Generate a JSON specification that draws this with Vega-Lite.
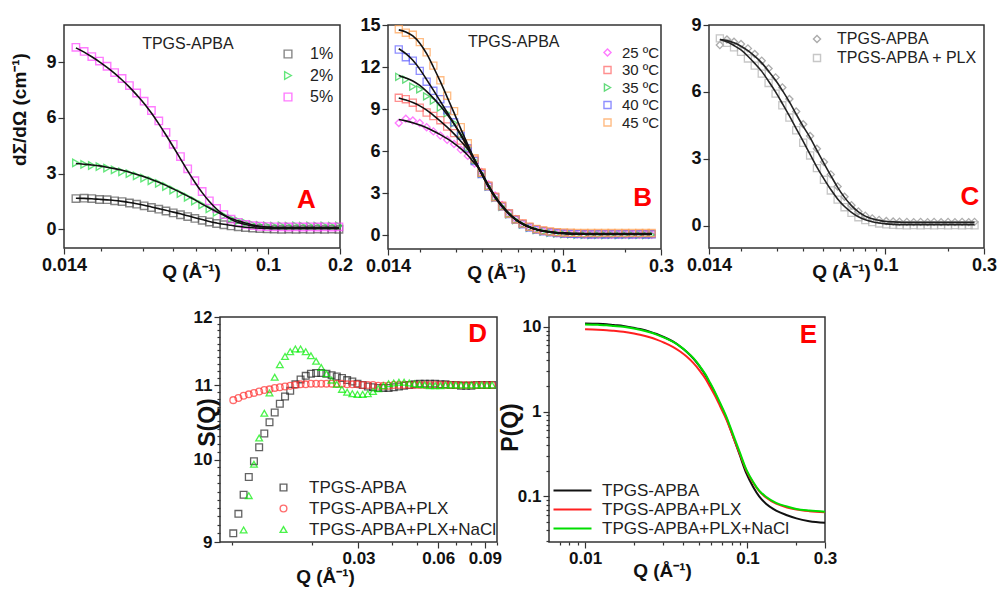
{
"$schema":"https://vega.github.io/schema/vega-lite/v6.json",
"background":"white",
"padding":{"left":9,"top":15,"right":0,"bottom":0},
"config":{
 "font":"Liberation Sans",
 "view":{"stroke":"#333","strokeWidth":1.5},
 "axis":{"labelFont":"Liberation Sans","labelFontSize":18,"labelFontWeight":"bold","labelColor":"#111","titleFont":"Liberation Sans","titleFontSize":19,"titleFontWeight":"bold","titleColor":"#111","grid":false,"domain":false,"tickColor":"#333","tickWidth":1.2,"labelFlush":false,"labelOverlap":false,"labelBound":false,"labelPadding":2},
 "legend":{"orient":"none","padding":0,"labelFont":"Liberation Sans","labelColor":"#222","symbolStrokeWidth":1.4,"labelLimit":400}
},
"resolve":{"scale":{"x":"independent","y":"independent","color":"independent","shape":"independent"}},
"datasets":{
"a":[
{"q":0.0157,"s":"1%","f":1.68,"v":1.66},{"q":0.0170,"s":"1%","f":1.67,"v":1.68},{"q":0.0183,"s":"1%","f":1.65,"v":1.66},{"q":0.0197,"s":"1%","f":1.62,"v":1.61},{"q":0.0212,"s":"1%","f":1.59,"v":1.60},{"q":0.0228,"s":"1%","f":1.56,"v":1.54},{"q":0.0245,"s":"1%","f":1.51,"v":1.50},{"q":0.0263,"s":"1%","f":1.45,"v":1.42},{"q":0.0282,"s":"1%","f":1.38,"v":1.36},{"q":0.0303,"s":"1%","f":1.30,"v":1.27},{"q":0.0325,"s":"1%","f":1.21,"v":1.18},{"q":0.0349,"s":"1%","f":1.12,"v":1.09},{"q":0.0374,"s":"1%","f":1.03,"v":0.99},{"q":0.0401,"s":"1%","f":0.93,"v":0.89},{"q":0.0430,"s":"1%","f":0.84,"v":0.79},{"q":0.0461,"s":"1%","f":0.73,"v":0.69},{"q":0.0494,"s":"1%","f":0.63,"v":0.59},{"q":0.0530,"s":"1%","f":0.53,"v":0.49},{"q":0.0568,"s":"1%","f":0.43,"v":0.40},{"q":0.0609,"s":"1%","f":0.35,"v":0.32},{"q":0.0653,"s":"1%","f":0.28,"v":0.25},{"q":0.0700,"s":"1%","f":0.22,"v":0.19},{"q":0.0750,"s":"1%","f":0.16,"v":0.14},{"q":0.0804,"s":"1%","f":0.12,"v":0.10},{"q":0.0862,"s":"1%","f":0.09,"v":0.07},{"q":0.0924,"s":"1%","f":0.07,"v":0.05},{"q":0.0990,"s":"1%","f":0.05,"v":0.03},{"q":0.106,"s":"1%","f":0.04,"v":0.02},{"q":0.114,"s":"1%","f":0.04,"v":0.01},{"q":0.122,"s":"1%","f":0.04,"v":0.02},{"q":0.131,"s":"1%","f":0.04,"v":0.01},{"q":0.140,"s":"1%","f":0.04,"v":0.02},{"q":0.150,"s":"1%","f":0.04,"v":0.01},{"q":0.161,"s":"1%","f":0.04,"v":0.02},{"q":0.172,"s":"1%","f":0.04,"v":0.01},{"q":0.185,"s":"1%","f":0.04,"v":0.02},{"q":0.198,"s":"1%","f":0.04,"v":0.01},
{"q":0.0157,"s":"2%","f":3.55,"v":3.58},{"q":0.0170,"s":"2%","f":3.51,"v":3.50},{"q":0.0183,"s":"2%","f":3.47,"v":3.44},{"q":0.0197,"s":"2%","f":3.42,"v":3.38},{"q":0.0212,"s":"2%","f":3.35,"v":3.30},{"q":0.0228,"s":"2%","f":3.27,"v":3.20},{"q":0.0245,"s":"2%","f":3.18,"v":3.10},{"q":0.0263,"s":"2%","f":3.08,"v":3.00},{"q":0.0282,"s":"2%","f":2.96,"v":2.88},{"q":0.0303,"s":"2%","f":2.83,"v":2.76},{"q":0.0325,"s":"2%","f":2.69,"v":2.62},{"q":0.0349,"s":"2%","f":2.54,"v":2.48},{"q":0.0374,"s":"2%","f":2.37,"v":2.31},{"q":0.0401,"s":"2%","f":2.18,"v":2.12},{"q":0.0430,"s":"2%","f":1.99,"v":1.93},{"q":0.0461,"s":"2%","f":1.79,"v":1.73},{"q":0.0494,"s":"2%","f":1.59,"v":1.53},{"q":0.0530,"s":"2%","f":1.36,"v":1.32},{"q":0.0568,"s":"2%","f":1.15,"v":1.11},{"q":0.0609,"s":"2%","f":0.95,"v":0.92},{"q":0.0653,"s":"2%","f":0.76,"v":0.74},{"q":0.0700,"s":"2%","f":0.59,"v":0.58},{"q":0.0750,"s":"2%","f":0.46,"v":0.46},{"q":0.0804,"s":"2%","f":0.34,"v":0.35},{"q":0.0862,"s":"2%","f":0.24,"v":0.26},{"q":0.0924,"s":"2%","f":0.17,"v":0.21},{"q":0.0990,"s":"2%","f":0.12,"v":0.19},{"q":0.106,"s":"2%","f":0.09,"v":0.18},{"q":0.114,"s":"2%","f":0.08,"v":0.19},{"q":0.122,"s":"2%","f":0.07,"v":0.18},{"q":0.131,"s":"2%","f":0.07,"v":0.19},{"q":0.140,"s":"2%","f":0.07,"v":0.18},{"q":0.150,"s":"2%","f":0.07,"v":0.19},{"q":0.161,"s":"2%","f":0.07,"v":0.18},{"q":0.172,"s":"2%","f":0.07,"v":0.19},{"q":0.185,"s":"2%","f":0.07,"v":0.18},{"q":0.198,"s":"2%","f":0.07,"v":0.19},
{"q":0.0157,"s":"5%","f":9.77,"v":9.80},{"q":0.0170,"s":"5%","f":9.54,"v":9.58},{"q":0.0183,"s":"5%","f":9.29,"v":9.30},{"q":0.0197,"s":"5%","f":9.02,"v":9.06},{"q":0.0212,"s":"5%","f":8.72,"v":8.78},{"q":0.0228,"s":"5%","f":8.40,"v":8.44},{"q":0.0245,"s":"5%","f":8.04,"v":8.12},{"q":0.0263,"s":"5%","f":7.66,"v":7.74},{"q":0.0282,"s":"5%","f":7.24,"v":7.34},{"q":0.0303,"s":"5%","f":6.78,"v":6.90},{"q":0.0325,"s":"5%","f":6.26,"v":6.40},{"q":0.0349,"s":"5%","f":5.68,"v":5.84},{"q":0.0374,"s":"5%","f":5.08,"v":5.22},{"q":0.0401,"s":"5%","f":4.45,"v":4.58},{"q":0.0430,"s":"5%","f":3.80,"v":3.92},{"q":0.0461,"s":"5%","f":3.15,"v":3.26},{"q":0.0494,"s":"5%","f":2.54,"v":2.62},{"q":0.0530,"s":"5%","f":1.98,"v":2.04},{"q":0.0568,"s":"5%","f":1.50,"v":1.54},{"q":0.0609,"s":"5%","f":1.10,"v":1.13},{"q":0.0653,"s":"5%","f":0.78,"v":0.80},{"q":0.0700,"s":"5%","f":0.54,"v":0.55},{"q":0.0750,"s":"5%","f":0.37,"v":0.38},{"q":0.0804,"s":"5%","f":0.26,"v":0.27},{"q":0.0862,"s":"5%","f":0.19,"v":0.20},{"q":0.0924,"s":"5%","f":0.15,"v":0.17},{"q":0.0990,"s":"5%","f":0.13,"v":0.15},{"q":0.106,"s":"5%","f":0.12,"v":0.14},{"q":0.114,"s":"5%","f":0.11,"v":0.14},{"q":0.122,"s":"5%","f":0.11,"v":0.13},{"q":0.131,"s":"5%","f":0.11,"v":0.14},{"q":0.140,"s":"5%","f":0.11,"v":0.13},{"q":0.150,"s":"5%","f":0.11,"v":0.14},{"q":0.161,"s":"5%","f":0.11,"v":0.13},{"q":0.172,"s":"5%","f":0.11,"v":0.14},{"q":0.185,"s":"5%","f":0.11,"v":0.13},{"q":0.198,"s":"5%","f":0.11,"v":0.14}
],
"b":[
{"q":0.0158,"s":"25 ºC","f":8.25,"v":8.00},{"q":0.0171,"s":"25 ºC","f":8.15,"v":8.30},{"q":0.0185,"s":"25 ºC","f":8.02,"v":8.18},{"q":0.0200,"s":"25 ºC","f":7.85,"v":8.00},{"q":0.0216,"s":"25 ºC","f":7.66,"v":7.70},{"q":0.0233,"s":"25 ºC","f":7.43,"v":7.40},{"q":0.0252,"s":"25 ºC","f":7.17,"v":7.10},{"q":0.0272,"s":"25 ºC","f":6.88,"v":6.80},{"q":0.0294,"s":"25 ºC","f":6.55,"v":6.50},{"q":0.0317,"s":"25 ºC","f":6.17,"v":6.10},{"q":0.0343,"s":"25 ºC","f":5.70,"v":5.65},{"q":0.0370,"s":"25 ºC","f":5.12,"v":5.10},{"q":0.0400,"s":"25 ºC","f":4.48,"v":4.50},{"q":0.0432,"s":"25 ºC","f":3.58,"v":3.62},{"q":0.0466,"s":"25 ºC","f":2.78,"v":2.82},{"q":0.0504,"s":"25 ºC","f":2.10,"v":2.14},{"q":0.0544,"s":"25 ºC","f":1.55,"v":1.58},{"q":0.0587,"s":"25 ºC","f":1.12,"v":1.14},{"q":0.0634,"s":"25 ºC","f":0.80,"v":0.81},{"q":0.0685,"s":"25 ºC","f":0.56,"v":0.57},{"q":0.0740,"s":"25 ºC","f":0.39,"v":0.40},{"q":0.0799,"s":"25 ºC","f":0.28,"v":0.28},{"q":0.0863,"s":"25 ºC","f":0.20,"v":0.19},{"q":0.0932,"s":"25 ºC","f":0.15,"v":0.13},{"q":0.101,"s":"25 ºC","f":0.11,"v":0.09},{"q":0.109,"s":"25 ºC","f":0.09,"v":0.06},{"q":0.117,"s":"25 ºC","f":0.07,"v":0.04},{"q":0.127,"s":"25 ºC","f":0.06,"v":0.03},{"q":0.137,"s":"25 ºC","f":0.05,"v":0.02},{"q":0.148,"s":"25 ºC","f":0.05,"v":0.01},{"q":0.160,"s":"25 ºC","f":0.05,"v":0.02},{"q":0.172,"s":"25 ºC","f":0.05,"v":0.01},{"q":0.186,"s":"25 ºC","f":0.05,"v":0.02},{"q":0.201,"s":"25 ºC","f":0.05,"v":0.01},{"q":0.217,"s":"25 ºC","f":0.05,"v":0.02},{"q":0.235,"s":"25 ºC","f":0.05,"v":0.01},{"q":0.253,"s":"25 ºC","f":0.05,"v":0.02},{"q":0.270,"s":"25 ºC","f":0.05,"v":0.01},
{"q":0.0158,"s":"30 ºC","f":9.79,"v":9.80},{"q":0.0171,"s":"30 ºC","f":9.64,"v":9.70},{"q":0.0185,"s":"30 ºC","f":9.46,"v":9.45},{"q":0.0200,"s":"30 ºC","f":9.22,"v":9.10},{"q":0.0216,"s":"30 ºC","f":8.92,"v":8.75},{"q":0.0233,"s":"30 ºC","f":8.55,"v":8.50},{"q":0.0252,"s":"30 ºC","f":8.14,"v":8.20},{"q":0.0272,"s":"30 ºC","f":7.70,"v":7.75},{"q":0.0294,"s":"30 ºC","f":7.22,"v":7.28},{"q":0.0317,"s":"30 ºC","f":6.70,"v":6.75},{"q":0.0343,"s":"30 ºC","f":6.12,"v":6.15},{"q":0.0370,"s":"30 ºC","f":5.35,"v":5.38},{"q":0.0400,"s":"30 ºC","f":4.42,"v":4.45},{"q":0.0432,"s":"30 ºC","f":3.50,"v":3.52},{"q":0.0466,"s":"30 ºC","f":2.72,"v":2.74},{"q":0.0504,"s":"30 ºC","f":2.07,"v":2.09},{"q":0.0544,"s":"30 ºC","f":1.53,"v":1.55},{"q":0.0587,"s":"30 ºC","f":1.11,"v":1.13},{"q":0.0634,"s":"30 ºC","f":0.80,"v":0.82},{"q":0.0685,"s":"30 ºC","f":0.57,"v":0.58},{"q":0.0740,"s":"30 ºC","f":0.40,"v":0.41},{"q":0.0799,"s":"30 ºC","f":0.29,"v":0.30},{"q":0.0863,"s":"30 ºC","f":0.21,"v":0.22},{"q":0.0932,"s":"30 ºC","f":0.15,"v":0.16},{"q":0.101,"s":"30 ºC","f":0.11,"v":0.12},{"q":0.109,"s":"30 ºC","f":0.08,"v":0.09},{"q":0.117,"s":"30 ºC","f":0.07,"v":0.08},{"q":0.127,"s":"30 ºC","f":0.06,"v":0.07},{"q":0.137,"s":"30 ºC","f":0.05,"v":0.06},{"q":0.148,"s":"30 ºC","f":0.05,"v":0.07},{"q":0.160,"s":"30 ºC","f":0.05,"v":0.06},{"q":0.172,"s":"30 ºC","f":0.05,"v":0.07},{"q":0.186,"s":"30 ºC","f":0.05,"v":0.06},{"q":0.201,"s":"30 ºC","f":0.05,"v":0.07},{"q":0.217,"s":"30 ºC","f":0.05,"v":0.06},{"q":0.235,"s":"30 ºC","f":0.05,"v":0.07},{"q":0.253,"s":"30 ºC","f":0.05,"v":0.06},{"q":0.270,"s":"30 ºC","f":0.05,"v":0.07},
{"q":0.0158,"s":"35 ºC","f":11.40,"v":11.30},{"q":0.0171,"s":"35 ºC","f":11.22,"v":11.10},{"q":0.0185,"s":"35 ºC","f":11.00,"v":10.60},{"q":0.0200,"s":"35 ºC","f":10.68,"v":10.40},{"q":0.0216,"s":"35 ºC","f":10.26,"v":9.90},{"q":0.0233,"s":"35 ºC","f":9.78,"v":9.60},{"q":0.0252,"s":"35 ºC","f":9.22,"v":9.10},{"q":0.0272,"s":"35 ºC","f":8.60,"v":8.70},{"q":0.0294,"s":"35 ºC","f":7.92,"v":8.00},{"q":0.0317,"s":"35 ºC","f":7.18,"v":7.10},{"q":0.0343,"s":"35 ºC","f":6.33,"v":6.25},{"q":0.0370,"s":"35 ºC","f":5.38,"v":5.30},{"q":0.0400,"s":"35 ºC","f":4.42,"v":4.36},{"q":0.0432,"s":"35 ºC","f":3.50,"v":3.45},{"q":0.0466,"s":"35 ºC","f":2.72,"v":2.66},{"q":0.0504,"s":"35 ºC","f":2.07,"v":2.02},{"q":0.0544,"s":"35 ºC","f":1.53,"v":1.48},{"q":0.0587,"s":"35 ºC","f":1.11,"v":1.06},{"q":0.0634,"s":"35 ºC","f":0.80,"v":0.75},{"q":0.0685,"s":"35 ºC","f":0.57,"v":0.52},{"q":0.0740,"s":"35 ºC","f":0.40,"v":0.35},{"q":0.0799,"s":"35 ºC","f":0.29,"v":0.24},{"q":0.0863,"s":"35 ºC","f":0.21,"v":0.16},{"q":0.0932,"s":"35 ºC","f":0.15,"v":0.10},{"q":0.101,"s":"35 ºC","f":0.11,"v":0.06},{"q":0.109,"s":"35 ºC","f":0.08,"v":0.04},{"q":0.117,"s":"35 ºC","f":0.06,"v":0.02},{"q":0.127,"s":"35 ºC","f":0.05,"v":0.01},{"q":0.137,"s":"35 ºC","f":0.04,"v":0.00},{"q":0.148,"s":"35 ºC","f":0.04,"v":0.01},{"q":0.160,"s":"35 ºC","f":0.04,"v":0.00},{"q":0.172,"s":"35 ºC","f":0.04,"v":0.01},{"q":0.186,"s":"35 ºC","f":0.04,"v":0.00},{"q":0.201,"s":"35 ºC","f":0.04,"v":0.01},{"q":0.217,"s":"35 ºC","f":0.04,"v":0.00},{"q":0.235,"s":"35 ºC","f":0.04,"v":0.01},{"q":0.253,"s":"35 ºC","f":0.04,"v":0.00},{"q":0.270,"s":"35 ºC","f":0.04,"v":0.01},
{"q":0.0158,"s":"40 ºC","f":13.30,"v":13.25},{"q":0.0171,"s":"40 ºC","f":12.95,"v":12.70},{"q":0.0185,"s":"40 ºC","f":12.48,"v":12.45},{"q":0.0200,"s":"40 ºC","f":11.85,"v":11.72},{"q":0.0216,"s":"40 ºC","f":11.10,"v":10.95},{"q":0.0233,"s":"40 ºC","f":10.35,"v":10.30},{"q":0.0252,"s":"40 ºC","f":9.55,"v":9.70},{"q":0.0272,"s":"40 ºC","f":8.75,"v":8.90},{"q":0.0294,"s":"40 ºC","f":7.95,"v":8.05},{"q":0.0317,"s":"40 ºC","f":7.12,"v":7.10},{"q":0.0343,"s":"40 ºC","f":6.25,"v":6.20},{"q":0.0370,"s":"40 ºC","f":5.30,"v":5.28},{"q":0.0400,"s":"40 ºC","f":4.38,"v":4.35},{"q":0.0432,"s":"40 ºC","f":3.48,"v":3.46},{"q":0.0466,"s":"40 ºC","f":2.70,"v":2.68},{"q":0.0504,"s":"40 ºC","f":2.05,"v":2.03},{"q":0.0544,"s":"40 ºC","f":1.52,"v":1.50},{"q":0.0587,"s":"40 ºC","f":1.10,"v":1.08},{"q":0.0634,"s":"40 ºC","f":0.79,"v":0.77},{"q":0.0685,"s":"40 ºC","f":0.56,"v":0.54},{"q":0.0740,"s":"40 ºC","f":0.40,"v":0.38},{"q":0.0799,"s":"40 ºC","f":0.29,"v":0.27},{"q":0.0863,"s":"40 ºC","f":0.21,"v":0.19},{"q":0.0932,"s":"40 ºC","f":0.16,"v":0.14},{"q":0.101,"s":"40 ºC","f":0.12,"v":0.10},{"q":0.109,"s":"40 ºC","f":0.10,"v":0.08},{"q":0.117,"s":"40 ºC","f":0.08,"v":0.06},{"q":0.127,"s":"40 ºC","f":0.07,"v":0.05},{"q":0.137,"s":"40 ºC","f":0.06,"v":0.04},{"q":0.148,"s":"40 ºC","f":0.06,"v":0.05},{"q":0.160,"s":"40 ºC","f":0.06,"v":0.04},{"q":0.172,"s":"40 ºC","f":0.06,"v":0.05},{"q":0.186,"s":"40 ºC","f":0.06,"v":0.04},{"q":0.201,"s":"40 ºC","f":0.06,"v":0.05},{"q":0.217,"s":"40 ºC","f":0.06,"v":0.04},{"q":0.235,"s":"40 ºC","f":0.06,"v":0.05},{"q":0.253,"s":"40 ºC","f":0.06,"v":0.04},{"q":0.270,"s":"40 ºC","f":0.06,"v":0.05},
{"q":0.0158,"s":"45 ºC","f":14.65,"v":14.70},{"q":0.0171,"s":"45 ºC","f":14.50,"v":14.45},{"q":0.0185,"s":"45 ºC","f":14.22,"v":14.30},{"q":0.0200,"s":"45 ºC","f":13.70,"v":13.78},{"q":0.0216,"s":"45 ºC","f":12.95,"v":13.05},{"q":0.0233,"s":"45 ºC","f":12.00,"v":12.10},{"q":0.0252,"s":"45 ºC","f":10.95,"v":11.05},{"q":0.0272,"s":"45 ºC","f":9.85,"v":9.95},{"q":0.0294,"s":"45 ºC","f":8.72,"v":8.85},{"q":0.0317,"s":"45 ºC","f":7.58,"v":7.70},{"q":0.0343,"s":"45 ºC","f":6.45,"v":6.55},{"q":0.0370,"s":"45 ºC","f":5.38,"v":5.48},{"q":0.0400,"s":"45 ºC","f":4.38,"v":4.45},{"q":0.0432,"s":"45 ºC","f":3.45,"v":3.50},{"q":0.0466,"s":"45 ºC","f":2.66,"v":2.70},{"q":0.0504,"s":"45 ºC","f":2.02,"v":2.05},{"q":0.0544,"s":"45 ºC","f":1.50,"v":1.52},{"q":0.0587,"s":"45 ºC","f":1.09,"v":1.11},{"q":0.0634,"s":"45 ºC","f":0.79,"v":0.81},{"q":0.0685,"s":"45 ºC","f":0.57,"v":0.59},{"q":0.0740,"s":"45 ºC","f":0.41,"v":0.43},{"q":0.0799,"s":"45 ºC","f":0.30,"v":0.32},{"q":0.0863,"s":"45 ºC","f":0.23,"v":0.25},{"q":0.0932,"s":"45 ºC","f":0.18,"v":0.20},{"q":0.101,"s":"45 ºC","f":0.15,"v":0.18},{"q":0.109,"s":"45 ºC","f":0.13,"v":0.16},{"q":0.117,"s":"45 ºC","f":0.12,"v":0.15},{"q":0.127,"s":"45 ºC","f":0.11,"v":0.14},{"q":0.137,"s":"45 ºC","f":0.11,"v":0.15},{"q":0.148,"s":"45 ºC","f":0.10,"v":0.14},{"q":0.160,"s":"45 ºC","f":0.10,"v":0.15},{"q":0.172,"s":"45 ºC","f":0.10,"v":0.14},{"q":0.186,"s":"45 ºC","f":0.10,"v":0.15},{"q":0.201,"s":"45 ºC","f":0.10,"v":0.14},{"q":0.217,"s":"45 ºC","f":0.10,"v":0.15},{"q":0.235,"s":"45 ºC","f":0.10,"v":0.14},{"q":0.253,"s":"45 ºC","f":0.10,"v":0.15},{"q":0.270,"s":"45 ºC","f":0.10,"v":0.14}
],
"c":[
{"q":0.0158,"s":"TPGS-APBA","f":8.35,"v":8.10},{"q":0.0171,"s":"TPGS-APBA","f":8.30,"v":8.35},{"q":0.0185,"s":"TPGS-APBA","f":8.20,"v":8.25},{"q":0.0200,"s":"TPGS-APBA","f":8.05,"v":8.15},{"q":0.0216,"s":"TPGS-APBA","f":7.85,"v":7.95},{"q":0.0233,"s":"TPGS-APBA","f":7.60,"v":7.70},{"q":0.0252,"s":"TPGS-APBA","f":7.30,"v":7.40},{"q":0.0272,"s":"TPGS-APBA","f":6.93,"v":7.05},{"q":0.0294,"s":"TPGS-APBA","f":6.52,"v":6.65},{"q":0.0317,"s":"TPGS-APBA","f":6.07,"v":6.20},{"q":0.0343,"s":"TPGS-APBA","f":5.55,"v":5.68},{"q":0.0370,"s":"TPGS-APBA","f":5.00,"v":5.12},{"q":0.0400,"s":"TPGS-APBA","f":4.45,"v":4.55},{"q":0.0432,"s":"TPGS-APBA","f":3.95,"v":4.02},{"q":0.0466,"s":"TPGS-APBA","f":3.38,"v":3.45},{"q":0.0504,"s":"TPGS-APBA","f":2.80,"v":2.86},{"q":0.0544,"s":"TPGS-APBA","f":2.25,"v":2.30},{"q":0.0587,"s":"TPGS-APBA","f":1.72,"v":1.76},{"q":0.0634,"s":"TPGS-APBA","f":1.27,"v":1.30},{"q":0.0685,"s":"TPGS-APBA","f":0.90,"v":0.92},{"q":0.0740,"s":"TPGS-APBA","f":0.62,"v":0.64},{"q":0.0799,"s":"TPGS-APBA","f":0.43,"v":0.45},{"q":0.0863,"s":"TPGS-APBA","f":0.31,"v":0.33},{"q":0.0932,"s":"TPGS-APBA","f":0.24,"v":0.26},{"q":0.101,"s":"TPGS-APBA","f":0.19,"v":0.21},{"q":0.109,"s":"TPGS-APBA","f":0.17,"v":0.19},{"q":0.117,"s":"TPGS-APBA","f":0.16,"v":0.18},{"q":0.127,"s":"TPGS-APBA","f":0.15,"v":0.17},{"q":0.137,"s":"TPGS-APBA","f":0.15,"v":0.16},{"q":0.148,"s":"TPGS-APBA","f":0.15,"v":0.17},{"q":0.160,"s":"TPGS-APBA","f":0.15,"v":0.16},{"q":0.172,"s":"TPGS-APBA","f":0.15,"v":0.17},{"q":0.186,"s":"TPGS-APBA","f":0.15,"v":0.16},{"q":0.201,"s":"TPGS-APBA","f":0.15,"v":0.17},{"q":0.217,"s":"TPGS-APBA","f":0.15,"v":0.16},{"q":0.235,"s":"TPGS-APBA","f":0.15,"v":0.17},{"q":0.253,"s":"TPGS-APBA","f":0.15,"v":0.16},{"q":0.270,"s":"TPGS-APBA","f":0.15,"v":0.17},
{"q":0.0158,"s":"TPGS-APBA + PLX","f":8.35,"v":8.40},{"q":0.0171,"s":"TPGS-APBA + PLX","f":8.25,"v":8.20},{"q":0.0185,"s":"TPGS-APBA + PLX","f":8.08,"v":8.00},{"q":0.0200,"s":"TPGS-APBA + PLX","f":7.88,"v":7.80},{"q":0.0216,"s":"TPGS-APBA + PLX","f":7.60,"v":7.50},{"q":0.0233,"s":"TPGS-APBA + PLX","f":7.28,"v":7.18},{"q":0.0252,"s":"TPGS-APBA + PLX","f":6.92,"v":6.82},{"q":0.0272,"s":"TPGS-APBA + PLX","f":6.48,"v":6.40},{"q":0.0294,"s":"TPGS-APBA + PLX","f":6.00,"v":5.92},{"q":0.0317,"s":"TPGS-APBA + PLX","f":5.48,"v":5.40},{"q":0.0343,"s":"TPGS-APBA + PLX","f":4.92,"v":4.85},{"q":0.0370,"s":"TPGS-APBA + PLX","f":4.35,"v":4.28},{"q":0.0400,"s":"TPGS-APBA + PLX","f":3.78,"v":3.72},{"q":0.0432,"s":"TPGS-APBA + PLX","f":3.20,"v":3.15},{"q":0.0466,"s":"TPGS-APBA + PLX","f":2.63,"v":2.58},{"q":0.0504,"s":"TPGS-APBA + PLX","f":2.10,"v":2.06},{"q":0.0544,"s":"TPGS-APBA + PLX","f":1.62,"v":1.58},{"q":0.0587,"s":"TPGS-APBA + PLX","f":1.20,"v":1.17},{"q":0.0634,"s":"TPGS-APBA + PLX","f":0.86,"v":0.83},{"q":0.0685,"s":"TPGS-APBA + PLX","f":0.60,"v":0.58},{"q":0.0740,"s":"TPGS-APBA + PLX","f":0.40,"v":0.38},{"q":0.0799,"s":"TPGS-APBA + PLX","f":0.27,"v":0.25},{"q":0.0863,"s":"TPGS-APBA + PLX","f":0.18,"v":0.16},{"q":0.0932,"s":"TPGS-APBA + PLX","f":0.12,"v":0.10},{"q":0.101,"s":"TPGS-APBA + PLX","f":0.08,"v":0.06},{"q":0.109,"s":"TPGS-APBA + PLX","f":0.06,"v":0.04},{"q":0.117,"s":"TPGS-APBA + PLX","f":0.05,"v":0.03},{"q":0.127,"s":"TPGS-APBA + PLX","f":0.05,"v":0.02},{"q":0.137,"s":"TPGS-APBA + PLX","f":0.05,"v":0.03},{"q":0.148,"s":"TPGS-APBA + PLX","f":0.05,"v":0.02},{"q":0.160,"s":"TPGS-APBA + PLX","f":0.05,"v":0.03},{"q":0.172,"s":"TPGS-APBA + PLX","f":0.05,"v":0.02},{"q":0.186,"s":"TPGS-APBA + PLX","f":0.05,"v":0.03},{"q":0.201,"s":"TPGS-APBA + PLX","f":0.05,"v":0.02},{"q":0.217,"s":"TPGS-APBA + PLX","f":0.05,"v":0.03},{"q":0.235,"s":"TPGS-APBA + PLX","f":0.05,"v":0.02},{"q":0.253,"s":"TPGS-APBA + PLX","f":0.05,"v":0.03},{"q":0.270,"s":"TPGS-APBA + PLX","f":0.05,"v":0.02}
],
"d":[
{"q":0.0101,"s":"TPGS-APBA","v":9.10},{"q":0.01056,"s":"TPGS-APBA","v":9.33},{"q":0.01105,"s":"TPGS-APBA","v":9.56},{"q":0.01156,"s":"TPGS-APBA","v":9.78},{"q":0.01209,"s":"TPGS-APBA","v":9.98},{"q":0.01265,"s":"TPGS-APBA","v":10.16},{"q":0.01323,"s":"TPGS-APBA","v":10.34},{"q":0.01384,"s":"TPGS-APBA","v":10.49},{"q":0.01448,"s":"TPGS-APBA","v":10.62},{"q":0.01514,"s":"TPGS-APBA","v":10.74},{"q":0.01584,"s":"TPGS-APBA","v":10.84},{"q":0.01657,"s":"TPGS-APBA","v":10.92},{"q":0.01733,"s":"TPGS-APBA","v":11.01},{"q":0.01813,"s":"TPGS-APBA","v":11.08},{"q":0.01896,"s":"TPGS-APBA","v":11.13},{"q":0.01984,"s":"TPGS-APBA","v":11.16},{"q":0.02075,"s":"TPGS-APBA","v":11.17},{"q":0.0217,"s":"TPGS-APBA","v":11.17},{"q":0.0227,"s":"TPGS-APBA","v":11.16},{"q":0.02375,"s":"TPGS-APBA","v":11.14},{"q":0.02484,"s":"TPGS-APBA","v":11.12},{"q":0.02598,"s":"TPGS-APBA","v":11.10},{"q":0.02718,"s":"TPGS-APBA","v":11.07},{"q":0.02843,"s":"TPGS-APBA","v":11.05},{"q":0.02974,"s":"TPGS-APBA","v":11.02},{"q":0.03111,"s":"TPGS-APBA","v":11.00},{"q":0.03254,"s":"TPGS-APBA","v":10.98},{"q":0.03404,"s":"TPGS-APBA","v":10.97},{"q":0.0356,"s":"TPGS-APBA","v":10.96},{"q":0.03724,"s":"TPGS-APBA","v":10.96},{"q":0.03896,"s":"TPGS-APBA","v":10.96},{"q":0.04075,"s":"TPGS-APBA","v":10.97},{"q":0.04263,"s":"TPGS-APBA","v":10.98},{"q":0.04459,"s":"TPGS-APBA","v":10.99},{"q":0.04664,"s":"TPGS-APBA","v":11.00},{"q":0.04879,"s":"TPGS-APBA","v":11.01},{"q":0.05103,"s":"TPGS-APBA","v":11.02},{"q":0.05338,"s":"TPGS-APBA","v":11.02},{"q":0.05584,"s":"TPGS-APBA","v":11.02},{"q":0.05841,"s":"TPGS-APBA","v":11.02},{"q":0.0611,"s":"TPGS-APBA","v":11.01},{"q":0.06391,"s":"TPGS-APBA","v":11.01},{"q":0.06685,"s":"TPGS-APBA","v":11.00},{"q":0.06992,"s":"TPGS-APBA","v":11.00},{"q":0.07314,"s":"TPGS-APBA","v":10.99},{"q":0.07651,"s":"TPGS-APBA","v":10.99},{"q":0.08003,"s":"TPGS-APBA","v":10.99},{"q":0.08371,"s":"TPGS-APBA","v":11.00},{"q":0.08756,"s":"TPGS-APBA","v":11.00},{"q":0.09159,"s":"TPGS-APBA","v":11.00},{"q":0.09581,"s":"TPGS-APBA","v":11.00},
{"q":0.0101,"s":"TPGS-APBA+PLX","v":10.79},{"q":0.01056,"s":"TPGS-APBA+PLX","v":10.82},{"q":0.01105,"s":"TPGS-APBA+PLX","v":10.85},{"q":0.01156,"s":"TPGS-APBA+PLX","v":10.87},{"q":0.01209,"s":"TPGS-APBA+PLX","v":10.89},{"q":0.01265,"s":"TPGS-APBA+PLX","v":10.91},{"q":0.01323,"s":"TPGS-APBA+PLX","v":10.93},{"q":0.01384,"s":"TPGS-APBA+PLX","v":10.94},{"q":0.01448,"s":"TPGS-APBA+PLX","v":10.96},{"q":0.01514,"s":"TPGS-APBA+PLX","v":10.97},{"q":0.01584,"s":"TPGS-APBA+PLX","v":10.98},{"q":0.01657,"s":"TPGS-APBA+PLX","v":10.99},{"q":0.01733,"s":"TPGS-APBA+PLX","v":11.00},{"q":0.01813,"s":"TPGS-APBA+PLX","v":11.01},{"q":0.01896,"s":"TPGS-APBA+PLX","v":11.01},{"q":0.01984,"s":"TPGS-APBA+PLX","v":11.02},{"q":0.02075,"s":"TPGS-APBA+PLX","v":11.02},{"q":0.0217,"s":"TPGS-APBA+PLX","v":11.02},{"q":0.0227,"s":"TPGS-APBA+PLX","v":11.02},{"q":0.02375,"s":"TPGS-APBA+PLX","v":11.02},{"q":0.02484,"s":"TPGS-APBA+PLX","v":11.02},{"q":0.02598,"s":"TPGS-APBA+PLX","v":11.02},{"q":0.02718,"s":"TPGS-APBA+PLX","v":11.01},{"q":0.02843,"s":"TPGS-APBA+PLX","v":11.01},{"q":0.02974,"s":"TPGS-APBA+PLX","v":11.01},{"q":0.03111,"s":"TPGS-APBA+PLX","v":11.00},{"q":0.03254,"s":"TPGS-APBA+PLX","v":11.00},{"q":0.03404,"s":"TPGS-APBA+PLX","v":11.00},{"q":0.0356,"s":"TPGS-APBA+PLX","v":10.99},{"q":0.03724,"s":"TPGS-APBA+PLX","v":10.99},{"q":0.03896,"s":"TPGS-APBA+PLX","v":10.99},{"q":0.04075,"s":"TPGS-APBA+PLX","v":11.00},{"q":0.04263,"s":"TPGS-APBA+PLX","v":11.00},{"q":0.04459,"s":"TPGS-APBA+PLX","v":11.00},{"q":0.04664,"s":"TPGS-APBA+PLX","v":11.00},{"q":0.04879,"s":"TPGS-APBA+PLX","v":11.00},{"q":0.05103,"s":"TPGS-APBA+PLX","v":11.00},{"q":0.05338,"s":"TPGS-APBA+PLX","v":11.00},{"q":0.05584,"s":"TPGS-APBA+PLX","v":11.00},{"q":0.05841,"s":"TPGS-APBA+PLX","v":11.00},{"q":0.0611,"s":"TPGS-APBA+PLX","v":11.00},{"q":0.06391,"s":"TPGS-APBA+PLX","v":11.00},{"q":0.06685,"s":"TPGS-APBA+PLX","v":11.00},{"q":0.06992,"s":"TPGS-APBA+PLX","v":11.00},{"q":0.07314,"s":"TPGS-APBA+PLX","v":11.00},{"q":0.07651,"s":"TPGS-APBA+PLX","v":11.00},{"q":0.08003,"s":"TPGS-APBA+PLX","v":11.00},{"q":0.08371,"s":"TPGS-APBA+PLX","v":11.00},{"q":0.08756,"s":"TPGS-APBA+PLX","v":11.00},{"q":0.09159,"s":"TPGS-APBA+PLX","v":11.00},{"q":0.09581,"s":"TPGS-APBA+PLX","v":11.00},
{"q":0.01105,"s":"TPGS-APBA+PLX+NaCl","v":9.14},{"q":0.01156,"s":"TPGS-APBA+PLX+NaCl","v":9.55},{"q":0.01209,"s":"TPGS-APBA+PLX+NaCl","v":9.94},{"q":0.01265,"s":"TPGS-APBA+PLX+NaCl","v":10.28},{"q":0.01323,"s":"TPGS-APBA+PLX+NaCl","v":10.61},{"q":0.01384,"s":"TPGS-APBA+PLX+NaCl","v":10.89},{"q":0.01448,"s":"TPGS-APBA+PLX+NaCl","v":11.11},{"q":0.01514,"s":"TPGS-APBA+PLX+NaCl","v":11.29},{"q":0.01584,"s":"TPGS-APBA+PLX+NaCl","v":11.41},{"q":0.01657,"s":"TPGS-APBA+PLX+NaCl","v":11.48},{"q":0.01733,"s":"TPGS-APBA+PLX+NaCl","v":11.52},{"q":0.01813,"s":"TPGS-APBA+PLX+NaCl","v":11.52},{"q":0.01896,"s":"TPGS-APBA+PLX+NaCl","v":11.48},{"q":0.01984,"s":"TPGS-APBA+PLX+NaCl","v":11.42},{"q":0.02075,"s":"TPGS-APBA+PLX+NaCl","v":11.34},{"q":0.0217,"s":"TPGS-APBA+PLX+NaCl","v":11.25},{"q":0.0227,"s":"TPGS-APBA+PLX+NaCl","v":11.16},{"q":0.02375,"s":"TPGS-APBA+PLX+NaCl","v":11.07},{"q":0.02484,"s":"TPGS-APBA+PLX+NaCl","v":11.01},{"q":0.02598,"s":"TPGS-APBA+PLX+NaCl","v":10.94},{"q":0.02718,"s":"TPGS-APBA+PLX+NaCl","v":10.90},{"q":0.02843,"s":"TPGS-APBA+PLX+NaCl","v":10.88},{"q":0.02974,"s":"TPGS-APBA+PLX+NaCl","v":10.87},{"q":0.03111,"s":"TPGS-APBA+PLX+NaCl","v":10.87},{"q":0.03254,"s":"TPGS-APBA+PLX+NaCl","v":10.88},{"q":0.03404,"s":"TPGS-APBA+PLX+NaCl","v":10.91},{"q":0.0356,"s":"TPGS-APBA+PLX+NaCl","v":10.95},{"q":0.03724,"s":"TPGS-APBA+PLX+NaCl","v":10.99},{"q":0.03896,"s":"TPGS-APBA+PLX+NaCl","v":11.02},{"q":0.04075,"s":"TPGS-APBA+PLX+NaCl","v":11.03},{"q":0.04263,"s":"TPGS-APBA+PLX+NaCl","v":11.04},{"q":0.04459,"s":"TPGS-APBA+PLX+NaCl","v":11.04},{"q":0.04664,"s":"TPGS-APBA+PLX+NaCl","v":11.03},{"q":0.04879,"s":"TPGS-APBA+PLX+NaCl","v":11.02},{"q":0.05103,"s":"TPGS-APBA+PLX+NaCl","v":11.01},{"q":0.05338,"s":"TPGS-APBA+PLX+NaCl","v":11.00},{"q":0.05584,"s":"TPGS-APBA+PLX+NaCl","v":10.99},{"q":0.05841,"s":"TPGS-APBA+PLX+NaCl","v":10.99},{"q":0.0611,"s":"TPGS-APBA+PLX+NaCl","v":10.99},{"q":0.06391,"s":"TPGS-APBA+PLX+NaCl","v":11.00},{"q":0.06685,"s":"TPGS-APBA+PLX+NaCl","v":11.00},{"q":0.06992,"s":"TPGS-APBA+PLX+NaCl","v":11.00},{"q":0.07314,"s":"TPGS-APBA+PLX+NaCl","v":11.00},{"q":0.07651,"s":"TPGS-APBA+PLX+NaCl","v":11.00},{"q":0.08003,"s":"TPGS-APBA+PLX+NaCl","v":11.00},{"q":0.08371,"s":"TPGS-APBA+PLX+NaCl","v":11.00},{"q":0.08756,"s":"TPGS-APBA+PLX+NaCl","v":11.00},{"q":0.09159,"s":"TPGS-APBA+PLX+NaCl","v":11.00},{"q":0.09581,"s":"TPGS-APBA+PLX+NaCl","v":11.00}
],
"e":[
{"q":0.0100,"s":"TPGS-APBA","f":10.9},{"q":0.0120,"s":"TPGS-APBA","f":10.8},{"q":0.0136,"s":"TPGS-APBA","f":10.65},{"q":0.0150,"s":"TPGS-APBA","f":10.45},{"q":0.0172,"s":"TPGS-APBA","f":10.2},{"q":0.0200,"s":"TPGS-APBA","f":9.7},{"q":0.0218,"s":"TPGS-APBA","f":9.38},{"q":0.0250,"s":"TPGS-APBA","f":8.75},{"q":0.0276,"s":"TPGS-APBA","f":8.19},{"q":0.0310,"s":"TPGS-APBA","f":7.45},{"q":0.0349,"s":"TPGS-APBA","f":6.65},{"q":0.0385,"s":"TPGS-APBA","f":5.85},{"q":0.0422,"s":"TPGS-APBA","f":5.07},{"q":0.0465,"s":"TPGS-APBA","f":4.2},{"q":0.0509,"s":"TPGS-APBA","f":3.37},{"q":0.0550,"s":"TPGS-APBA","f":2.7},{"q":0.0587,"s":"TPGS-APBA","f":2.14},{"q":0.0630,"s":"TPGS-APBA","f":1.65},{"q":0.0676,"s":"TPGS-APBA","f":1.24},{"q":0.0743,"s":"TPGS-APBA","f":0.826},{"q":0.0817,"s":"TPGS-APBA","f":0.503},{"q":0.0897,"s":"TPGS-APBA","f":0.305},{"q":0.0986,"s":"TPGS-APBA","f":0.185},{"q":0.1084,"s":"TPGS-APBA","f":0.129},{"q":0.1180,"s":"TPGS-APBA","f":0.100},{"q":0.1300,"s":"TPGS-APBA","f":0.082},{"q":0.1500,"s":"TPGS-APBA","f":0.068},{"q":0.1750,"s":"TPGS-APBA","f":0.060},{"q":0.2000,"s":"TPGS-APBA","f":0.055},{"q":0.2400,"s":"TPGS-APBA","f":0.051},{"q":0.3000,"s":"TPGS-APBA","f":0.0488},
{"q":0.0100,"s":"TPGS-APBA+PLX","f":9.3},{"q":0.0120,"s":"TPGS-APBA+PLX","f":9.2},{"q":0.0136,"s":"TPGS-APBA+PLX","f":9.08},{"q":0.0150,"s":"TPGS-APBA+PLX","f":8.93},{"q":0.0172,"s":"TPGS-APBA+PLX","f":8.7},{"q":0.0200,"s":"TPGS-APBA+PLX","f":8.3},{"q":0.0218,"s":"TPGS-APBA+PLX","f":8.03},{"q":0.0250,"s":"TPGS-APBA+PLX","f":7.5},{"q":0.0276,"s":"TPGS-APBA+PLX","f":7.03},{"q":0.0310,"s":"TPGS-APBA+PLX","f":6.42},{"q":0.0349,"s":"TPGS-APBA+PLX","f":5.75},{"q":0.0385,"s":"TPGS-APBA+PLX","f":5.1},{"q":0.0422,"s":"TPGS-APBA+PLX","f":4.45},{"q":0.0465,"s":"TPGS-APBA+PLX","f":3.72},{"q":0.0509,"s":"TPGS-APBA+PLX","f":3.02},{"q":0.0550,"s":"TPGS-APBA+PLX","f":2.45},{"q":0.0587,"s":"TPGS-APBA+PLX","f":1.97},{"q":0.0630,"s":"TPGS-APBA+PLX","f":1.54},{"q":0.0676,"s":"TPGS-APBA+PLX","f":1.17},{"q":0.0743,"s":"TPGS-APBA+PLX","f":0.80},{"q":0.0817,"s":"TPGS-APBA+PLX","f":0.50},{"q":0.0897,"s":"TPGS-APBA+PLX","f":0.315},{"q":0.0986,"s":"TPGS-APBA+PLX","f":0.20},{"q":0.1084,"s":"TPGS-APBA+PLX","f":0.145},{"q":0.1180,"s":"TPGS-APBA+PLX","f":0.115},{"q":0.1300,"s":"TPGS-APBA+PLX","f":0.097},{"q":0.1500,"s":"TPGS-APBA+PLX","f":0.082},{"q":0.1750,"s":"TPGS-APBA+PLX","f":0.074},{"q":0.2000,"s":"TPGS-APBA+PLX","f":0.070},{"q":0.2400,"s":"TPGS-APBA+PLX","f":0.067},{"q":0.3000,"s":"TPGS-APBA+PLX","f":0.065},
{"q":0.0100,"s":"TPGS-APBA+PLX+NaCl","f":10.6},{"q":0.0120,"s":"TPGS-APBA+PLX+NaCl","f":10.5},{"q":0.0136,"s":"TPGS-APBA+PLX+NaCl","f":10.38},{"q":0.0150,"s":"TPGS-APBA+PLX+NaCl","f":10.2},{"q":0.0172,"s":"TPGS-APBA+PLX+NaCl","f":9.95},{"q":0.0200,"s":"TPGS-APBA+PLX+NaCl","f":9.5},{"q":0.0218,"s":"TPGS-APBA+PLX+NaCl","f":9.2},{"q":0.0250,"s":"TPGS-APBA+PLX+NaCl","f":8.6},{"q":0.0276,"s":"TPGS-APBA+PLX+NaCl","f":8.07},{"q":0.0310,"s":"TPGS-APBA+PLX+NaCl","f":7.38},{"q":0.0349,"s":"TPGS-APBA+PLX+NaCl","f":6.6},{"q":0.0385,"s":"TPGS-APBA+PLX+NaCl","f":5.85},{"q":0.0422,"s":"TPGS-APBA+PLX+NaCl","f":5.08},{"q":0.0465,"s":"TPGS-APBA+PLX+NaCl","f":4.25},{"q":0.0509,"s":"TPGS-APBA+PLX+NaCl","f":3.42},{"q":0.0550,"s":"TPGS-APBA+PLX+NaCl","f":2.76},{"q":0.0587,"s":"TPGS-APBA+PLX+NaCl","f":2.2},{"q":0.0630,"s":"TPGS-APBA+PLX+NaCl","f":1.70},{"q":0.0676,"s":"TPGS-APBA+PLX+NaCl","f":1.28},{"q":0.0743,"s":"TPGS-APBA+PLX+NaCl","f":0.86},{"q":0.0817,"s":"TPGS-APBA+PLX+NaCl","f":0.53},{"q":0.0897,"s":"TPGS-APBA+PLX+NaCl","f":0.33},{"q":0.0986,"s":"TPGS-APBA+PLX+NaCl","f":0.205},{"q":0.1084,"s":"TPGS-APBA+PLX+NaCl","f":0.148},{"q":0.1180,"s":"TPGS-APBA+PLX+NaCl","f":0.117},{"q":0.1300,"s":"TPGS-APBA+PLX+NaCl","f":0.099},{"q":0.1500,"s":"TPGS-APBA+PLX+NaCl","f":0.084},{"q":0.1750,"s":"TPGS-APBA+PLX+NaCl","f":0.076},{"q":0.2000,"s":"TPGS-APBA+PLX+NaCl","f":0.071},{"q":0.2400,"s":"TPGS-APBA+PLX+NaCl","f":0.068},{"q":0.3000,"s":"TPGS-APBA+PLX+NaCl","f":0.066}
]
},
"spacing":24,
"vconcat":[
{"hconcat":[
 {"width":276,"height":223,"data":{"name":"a"},
  "layer":[
   {"mark":{"type":"point","filled":false,"size":55,"strokeWidth":1.4},
    "encoding":{
     "x":{"field":"q","type":"quantitative","scale":{"type":"log","domain":[0.014,0.2],"nice":false},
      "axis":{"values":[0.014,0.02,0.03,0.04,0.05,0.06,0.07,0.08,0.09,0.1,0.2],"format":"~g","labelExpr":"indexof([0.014,0.1,0.2], datum.value) >= 0 ? datum.label : ''","tickSize":{"condition":{"test":"indexof([0.014,0.1,0.2], datum.value) >= 0","value":6},"value":3},"title":"Q (Å⁻¹)","titleX":127,"titleY":14}},
     "y":{"field":"v","type":"quantitative","scale":{"domain":[-1,11],"nice":false,"zero":false},
      "axis":{"values":[0,1.5,3,4.5,6,7.5,9,11],"labelExpr":"datum.value % 3 == 0 || datum.value == 11 ? datum.label : ''","tickSize":{"condition":{"test":"datum.value % 3 == 0 || datum.value == 11","value":6},"value":3},"title":"dΣ/dΩ (cm⁻¹)","titleX":-35,"titleY":84}},
     "color":{"field":"s","type":"nominal","scale":{"domain":["1%","2%","5%"],"range":["#555555","#22dd44","#ff44ff"]},"legend":{"title":null,"orient":"none","legendX":216,"legendY":21,"labelFontSize":16,"labelOffset":14,"rowPadding":5.5,"symbolSize":60}},
     "shape":{"field":"s","type":"nominal","scale":{"domain":["1%","2%","5%"],"range":["square","triangle-right","square"]},"legend":{"title":null,"orient":"none","legendX":216,"legendY":21,"labelFontSize":16,"labelOffset":14,"rowPadding":5.5,"symbolSize":60}}
    }},
   {"mark":{"type":"line","color":"#111","strokeWidth":1.6,"interpolate":"monotone"},
    "encoding":{"x":{"field":"q","type":"quantitative"},"y":{"field":"f","type":"quantitative","title":"dΣ/dΩ (cm⁻¹)"},"detail":{"field":"s"}}},
   {"data":{"values":[{}]},"mark":{"type":"text","fontSize":16,"color":"#222","align":"center","baseline":"middle"},
    "encoding":{"x":{"datum":0.0462,"type":"quantitative"},"y":{"datum":10.0,"type":"quantitative"},"text":{"value":"TPGS-APBA"}}},
   {"data":{"values":[{}]},"mark":{"type":"text","fontSize":26,"fontWeight":"bold","color":"#ff0000","align":"center","baseline":"middle"},
    "encoding":{"x":{"datum":0.1446,"type":"quantitative"},"y":{"datum":1.6,"type":"quantitative"},"text":{"value":"A"}}}
  ]},
 {"width":273,"height":224,"data":{"name":"b"},
  "layer":[
   {"mark":{"type":"point","filled":false,"size":50,"strokeWidth":1.3},
    "encoding":{
     "x":{"field":"q","type":"quantitative","scale":{"type":"log","domain":[0.014,0.3],"nice":false},
      "axis":{"values":[0.014,0.02,0.03,0.04,0.05,0.06,0.07,0.08,0.09,0.1,0.2,0.3],"format":"~g","labelExpr":"indexof([0.014,0.1,0.3], datum.value) >= 0 ? datum.label : ''","tickSize":{"condition":{"test":"indexof([0.014,0.1,0.3], datum.value) >= 0","value":6},"value":3},"title":"Q (Å⁻¹)","titleX":108,"titleY":14}},
     "y":{"field":"v","type":"quantitative","scale":{"domain":[-1,15],"nice":false,"zero":false},
      "axis":{"values":[0,1.5,3,4.5,6,7.5,9,10.5,12,13.5,15],"labelExpr":"datum.value % 3 == 0 ? datum.label : ''","tickSize":{"condition":{"test":"datum.value % 3 == 0","value":6},"value":3},"title":null}},
     "color":{"field":"s","type":"nominal","scale":{"domain":["25 ºC","30 ºC","35 ºC","40 ºC","45 ºC"],"range":["#ff44ff","#ff6060","#22cc44","#6060ff","#ffa050"]},"legend":{"title":null,"orient":"none","legendX":212,"legendY":20,"labelFontSize":15,"labelOffset":7,"rowPadding":1.5,"symbolSize":50}},
     "shape":{"field":"s","type":"nominal","scale":{"domain":["25 ºC","30 ºC","35 ºC","40 ºC","45 ºC"],"range":["diamond","square","triangle-right","square","square"]},"legend":{"title":null,"orient":"none","legendX":212,"legendY":20,"labelFontSize":15,"labelOffset":7,"rowPadding":1.5,"symbolSize":50}}
    }},
   {"mark":{"type":"line","color":"#111","strokeWidth":1.6,"interpolate":"monotone"},
    "encoding":{"x":{"field":"q","type":"quantitative"},"y":{"field":"f","type":"quantitative","title":null},"detail":{"field":"s"}}},
   {"data":{"values":[{}]},"mark":{"type":"text","fontSize":16,"color":"#222","align":"center","baseline":"middle"},
    "encoding":{"x":{"datum":0.0574,"type":"quantitative"},"y":{"datum":13.8,"type":"quantitative"},"text":{"value":"TPGS-APBA"}}},
   {"data":{"values":[{}]},"mark":{"type":"text","fontSize":26,"fontWeight":"bold","color":"#ff0000","align":"center","baseline":"middle"},
    "encoding":{"x":{"datum":0.2444,"type":"quantitative"},"y":{"datum":2.66,"type":"quantitative"},"text":{"value":"B"}}}
  ]},
 {"width":275,"height":223,"data":{"name":"c"},
  "layer":[
   {"mark":{"type":"point","filled":false,"size":50,"strokeWidth":1.3},
    "encoding":{
     "x":{"field":"q","type":"quantitative","scale":{"type":"log","domain":[0.014,0.3],"nice":false},
      "axis":{"values":[0.014,0.02,0.03,0.04,0.05,0.06,0.07,0.08,0.09,0.1,0.2,0.3],"format":"~g","labelExpr":"indexof([0.014,0.1,0.3], datum.value) >= 0 ? datum.label : ''","tickSize":{"condition":{"test":"indexof([0.014,0.1,0.3], datum.value) >= 0","value":6},"value":3},"title":"Q (Å⁻¹)","titleX":132,"titleY":14}},
     "y":{"field":"v","type":"quantitative","scale":{"domain":[-1,9],"nice":false,"zero":false},
      "axis":{"values":[0,1.5,3,4.5,6,7.5,9],"labelExpr":"datum.value % 3 == 0 ? datum.label : ''","tickSize":{"condition":{"test":"datum.value % 3 == 0","value":6},"value":3},"title":null}},
     "color":{"field":"s","type":"nominal","scale":{"domain":["TPGS-APBA","TPGS-APBA + PLX"],"range":["#8a8a8a","#b0b0b0"]},"legend":{"title":null,"orient":"none","legendX":100,"legendY":6,"labelFontSize":16,"labelOffset":12,"rowPadding":3,"symbolSize":50}},
     "shape":{"field":"s","type":"nominal","scale":{"domain":["TPGS-APBA","TPGS-APBA + PLX"],"range":["diamond","square"]},"legend":{"title":null,"orient":"none","legendX":100,"legendY":6,"labelFontSize":16,"labelOffset":12,"rowPadding":3,"symbolSize":50}}
    }},
   {"mark":{"type":"line","color":"#222","strokeWidth":1.6,"interpolate":"monotone"},
    "encoding":{"x":{"field":"q","type":"quantitative"},"y":{"field":"f","type":"quantitative","title":null},"detail":{"field":"s"}}},
   {"data":{"values":[{}]},"mark":{"type":"text","fontSize":26,"fontWeight":"bold","color":"#ff0000","align":"center","baseline":"middle"},
    "encoding":{"x":{"datum":0.2566,"type":"quantitative"},"y":{"datum":1.3,"type":"quantitative"},"text":{"value":"C"}}}
  ]}
 ],"spacing":48,"bounds":"flush","resolve":{"scale":{"x":"independent","y":"independent","color":"independent","shape":"independent"}}},
{"hconcat":[
 {"width":104,"height":20,"data":{"values":[]},"mark":"point","view":{"stroke":null,"fill":"white"}},
 {"width":277,"height":225,"data":{"name":"d"},
  "layer":[
   {"mark":{"type":"point","filled":false,"size":45,"strokeWidth":1.3},
    "encoding":{
     "x":{"field":"q","type":"quantitative","scale":{"type":"log","domain":[0.009,0.1],"nice":false},
      "axis":{"values":[0.01,0.02,0.03,0.04,0.05,0.06,0.07,0.08,0.09,0.1],"format":"~g","labelFontSize":17,"labelExpr":"indexof([0.03,0.06,0.09], datum.value) >= 0 ? datum.label : ''","tickSize":{"condition":{"test":"indexof([0.03,0.06,0.09], datum.value) >= 0","value":6},"value":3},"title":"Q (Å⁻¹)","titleX":105,"titleY":25}},
     "y":{"field":"v","type":"quantitative","scale":{"type":"log","domain":[9,12],"nice":false},
      "axis":{"values":[9,9.1,9.2,9.3,9.4,9.5,9.6,9.7,9.8,9.9,10,10.1,10.2,10.3,10.4,10.5,10.6,10.7,10.8,10.9,11,11.1,11.2,11.3,11.4,11.5,11.6,11.7,11.8,11.9,12],"format":"~g","labelFontSize":17,"labelExpr":"datum.value == round(datum.value) ? datum.label : ''","tickSize":{"condition":{"test":"datum.value == round(datum.value)","value":6},"value":3},"title":"S(Q)","titleFontSize":23,"titleX":-1,"titleY":105}},
     "color":{"field":"s","type":"nominal","scale":{"domain":["TPGS-APBA","TPGS-APBA+PLX","TPGS-APBA+PLX+NaCl"],"range":["#222222","#ff3030","#00ee00"]},"legend":{"title":null,"orient":"none","legendX":55,"legendY":162,"labelFontSize":17,"labelOffset":17,"rowPadding":3,"symbolSize":45}},
     "shape":{"field":"s","type":"nominal","scale":{"domain":["TPGS-APBA","TPGS-APBA+PLX","TPGS-APBA+PLX+NaCl"],"range":["square","circle","triangle-up"]},"legend":{"title":null,"orient":"none","legendX":55,"legendY":162,"labelFontSize":17,"labelOffset":17,"rowPadding":3,"symbolSize":45}}
    }},
   {"data":{"values":[{}]},"mark":{"type":"text","fontSize":26,"fontWeight":"bold","color":"#ff0000","align":"center","baseline":"middle"},
    "encoding":{"x":{"datum":0.0846,"type":"quantitative"},"y":{"datum":11.74,"type":"quantitative"},"text":{"value":"D"}}}
  ]},
 {"width":276,"height":225,"data":{"name":"e"},
  "layer":[
   {"mark":{"type":"line","strokeWidth":2,"interpolate":"monotone"},
    "encoding":{
     "x":{"field":"q","type":"quantitative","scale":{"type":"log","domain":[0.006,0.3],"nice":false},
      "axis":{"values":[0.007,0.008,0.009,0.01,0.02,0.03,0.04,0.05,0.06,0.07,0.08,0.09,0.1,0.2,0.3],"format":"~g","labelFontSize":17,"labelExpr":"indexof([0.01,0.1,0.3], datum.value) >= 0 ? datum.label : ''","tickSize":{"condition":{"test":"indexof([0.01,0.1,0.3], datum.value) >= 0","value":6},"value":3},"title":"Q (Å⁻¹)","titleX":113,"titleY":19}},
     "y":{"field":"f","type":"quantitative","scale":{"type":"log","domain":[0.029,13],"nice":false},
      "axis":{"values":[0.03,0.04,0.05,0.06,0.07,0.08,0.09,0.1,0.2,0.3,0.4,0.5,0.6,0.7,0.8,0.9,1,2,3,4,5,6,7,8,9,10],"format":"~g","labelFontSize":17,"labelExpr":"indexof([0.1,1,10], datum.value) >= 0 ? datum.label : ''","tickSize":{"condition":{"test":"indexof([0.1,1,10], datum.value) >= 0","value":6},"value":3},"title":"P(Q)","titleFontSize":23,"titleX":-27,"titleY":110}},
     "color":{"field":"s","type":"nominal","scale":{"domain":["TPGS-APBA","TPGS-APBA+PLX","TPGS-APBA+PLX+NaCl"],"range":["#111111","#ff2020","#00dd00"]},"legend":{"title":null,"orient":"none","legendX":12.5,"legendY":162.5,"labelFontSize":17,"labelOffset":18.5,"rowPadding":0,"symbolType":"M-2,0H2","symbolSize":361,"symbolStrokeWidth":2.2}}
    }},
   {"data":{"values":[{}]},"mark":{"type":"text","fontSize":26,"fontWeight":"bold","color":"#ff0000","align":"center","baseline":"middle"},
    "encoding":{"x":{"datum":0.237,"type":"quantitative"},"y":{"datum":8.04,"type":"quantitative"},"text":{"value":"E"}}}
  ]}
 ],"spacing":52,"bounds":"flush","resolve":{"scale":{"x":"independent","y":"independent","color":"independent","shape":"independent"}}}
]
}
